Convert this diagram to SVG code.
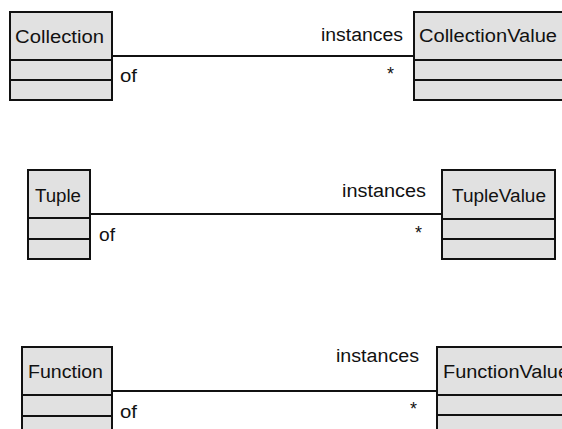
<svg xmlns="http://www.w3.org/2000/svg" width="562" height="429" viewBox="0 0 562 429">
<style>
.box{fill:#e1e1e1;stroke:#111;stroke-width:2}
.div{stroke:#111;stroke-width:2}
.t{font-family:"Liberation Sans",Arial,sans-serif;font-size:18px;fill:#111}
.conn{stroke:#111;stroke-width:2;fill:none}
</style>
<rect width="562" height="429" fill="#fff"/>
<g id="connectors">
<line class="conn" x1="112" y1="56" x2="414" y2="56"/>
<line class="conn" x1="90" y1="214" x2="442" y2="214"/>
<line class="conn" x1="112" y1="391" x2="437" y2="391"/>
<text class="t" x="120" y="82" textLength="17" lengthAdjust="spacingAndGlyphs">of</text>
<text class="t" x="321" y="41" textLength="82" lengthAdjust="spacingAndGlyphs">instances</text>
<text class="t" x="387" y="80">*</text>
<text class="t" x="99" y="241" textLength="16" lengthAdjust="spacingAndGlyphs">of</text>
<text class="t" x="342" y="197" textLength="84" lengthAdjust="spacingAndGlyphs">instances</text>
<text class="t" x="415" y="239">*</text>
<text class="t" x="120" y="418" textLength="17" lengthAdjust="spacingAndGlyphs">of</text>
<text class="t" x="336" y="362" textLength="83" lengthAdjust="spacingAndGlyphs">instances</text>
<text class="t" x="410" y="415">*</text>
</g>
<g id="Collection">
<rect class="box" x="10" y="12" width="102" height="88"/>
<line class="div" x1="10" y1="60" x2="112" y2="60"/>
<line class="div" x1="10" y1="80" x2="112" y2="80"/>
<text class="t" x="15" y="43" textLength="89" lengthAdjust="spacingAndGlyphs">Collection</text>
</g>
<g id="CollectionValue">
<rect class="box" x="414" y="12" width="160" height="88"/>
<line class="div" x1="414" y1="60" x2="574" y2="60"/>
<line class="div" x1="414" y1="80" x2="574" y2="80"/>
<text class="t" x="419" y="42" textLength="138" lengthAdjust="spacingAndGlyphs">CollectionValue</text>
</g>
<g id="Tuple">
<rect class="box" x="28" y="170" width="62" height="89"/>
<line class="div" x1="28" y1="218" x2="90" y2="218"/>
<line class="div" x1="28" y1="239" x2="90" y2="239"/>
<text class="t" x="35" y="202" textLength="46" lengthAdjust="spacingAndGlyphs">Tuple</text>
</g>
<g id="TupleValue">
<rect class="box" x="442" y="170" width="113" height="89"/>
<line class="div" x1="442" y1="219" x2="555" y2="219"/>
<line class="div" x1="442" y1="239" x2="555" y2="239"/>
<text class="t" x="452" y="202" textLength="94" lengthAdjust="spacingAndGlyphs">TupleValue</text>
</g>
<g id="Function">
<rect class="box" x="22" y="347" width="90" height="90"/>
<line class="div" x1="22" y1="395" x2="112" y2="395"/>
<line class="div" x1="22" y1="416" x2="112" y2="416"/>
<text class="t" x="28" y="378" textLength="75" lengthAdjust="spacingAndGlyphs">Function</text>
</g>
<g id="FunctionValue">
<rect class="box" x="437" y="347" width="140" height="90"/>
<line class="div" x1="437" y1="395" x2="577" y2="395"/>
<line class="div" x1="437" y1="415" x2="577" y2="415"/>
<text class="t" x="443" y="378" textLength="126" lengthAdjust="spacingAndGlyphs">FunctionValue</text>
</g>
</svg>
